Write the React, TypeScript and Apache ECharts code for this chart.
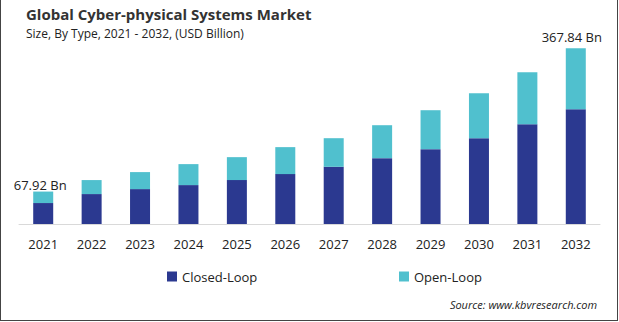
import React, { useEffect, useRef } from "react";
import * as echarts from "echarts";

const years = ["2021", "2022", "2023", "2024", "2025", "2026", "2027", "2028", "2029", "2030", "2031", "2032"];
const closedLoop = [43.9, 62.7, 73.1, 81.5, 92.0, 104.5, 119.8, 137.9, 156.7, 179.7, 209.0, 240.3];
const totals = [67.92, 92.0, 108.7, 125.4, 140.0, 161.0, 179.7, 206.9, 238.3, 273.8, 317.7, 367.84];
const openLoop = totals.map((t, i) => +(t - closedLoop[i]).toFixed(2));

const NAVY = "#2B3990";
const TEAL = "#50C0CE";
const FONT = "'Open Sans', 'Noto Sans', sans-serif";

export default function App() {
  const ref = useRef<HTMLDivElement>(null);
  useEffect(() => {
    document.body.style.margin = "0";
    const chart = echarts.init(ref.current!, null, { renderer: "svg" });
    const openData = openLoop.map((v, i) => {
      if (i === 0) {
        return {
          value: v,
          label: { show: true, formatter: "67.92 Bn", distance: 0, offset: [-3, 0] },
        };
      }
      if (i === openLoop.length - 1) {
        return {
          value: v,
          label: { show: true, formatter: "367.84 Bn", distance: 5, offset: [-4, 0] },
        };
      }
      return v;
    });
    const legendText = { fontFamily: FONT, fontSize: 13, color: "#222222" };
    chart.setOption({
      animation: false,
      backgroundColor: "#ffffff",
      textStyle: { fontFamily: FONT },
      title: {
        text: "Global Cyber-physical Systems Market",
        subtext: "Size, By Type, 2021 - 2032, (USD Billion)",
        left: 26,
        top: 6,
        padding: 0,
        itemGap: 6,
        textStyle: { fontFamily: FONT, fontSize: 15, fontWeight: "bold", color: "#333333" },
        subtextStyle: { fontFamily: FONT, fontSize: 12, color: "#222222" },
      },
      legend: [
        {
          data: ["Closed-Loop"],
          left: 167,
          top: 270,
          padding: 0,
          itemWidth: 10,
          itemHeight: 10,
          icon: "rect",
          textStyle: legendText,
        },
        {
          data: ["Open-Loop"],
          left: 399,
          top: 270,
          padding: 0,
          itemWidth: 10,
          itemHeight: 10,
          icon: "rect",
          textStyle: legendText,
        },
      ],
      grid: { left: 19, right: 19, top: 33, bottom: 98 },
      xAxis: {
        type: "category",
        data: years,
        axisLine: { lineStyle: { color: "#d9d9d9", width: 1 } },
        axisTick: { show: false },
        axisLabel: { fontFamily: FONT, fontSize: 13, color: "#222222", margin: 13 },
      },
      yAxis: {
        type: "value",
        min: 0,
        max: 400,
        show: false,
        splitLine: { show: false },
      },
      series: [
        {
          name: "Closed-Loop",
          type: "bar",
          stack: "total",
          data: closedLoop,
          barWidth: 20,
          itemStyle: { color: NAVY },
        },
        {
          name: "Open-Loop",
          type: "bar",
          stack: "total",
          data: openData,
          barWidth: 20,
          itemStyle: { color: TEAL },
          label: {
            show: false,
            position: "top",
            fontFamily: FONT,
            fontSize: 13,
            color: "#222222",
          },
        },
      ],
      graphic: [
        {
          type: "text",
          right: 22,
          top: 299,
          style: {
            text: "Source: www.kbvresearch.com",
            font: `italic 11px ${FONT}`,
            fill: "#222222",
          },
        },
        { type: "line", shape: { x1: 0.5, y1: 0, x2: 0.5, y2: 321 }, style: { stroke: "#444444", lineWidth: 1 } },
        { type: "line", shape: { x1: 617.5, y1: 0, x2: 617.5, y2: 321 }, style: { stroke: "#444444", lineWidth: 1 } },
        { type: "line", shape: { x1: 0, y1: 320.5, x2: 618, y2: 320.5 }, style: { stroke: "#444444", lineWidth: 1 } },
      ],
    });
    return () => chart.dispose();
  }, []);
  return <div ref={ref} style={{ width: 619, height: 322 }} />;
}
